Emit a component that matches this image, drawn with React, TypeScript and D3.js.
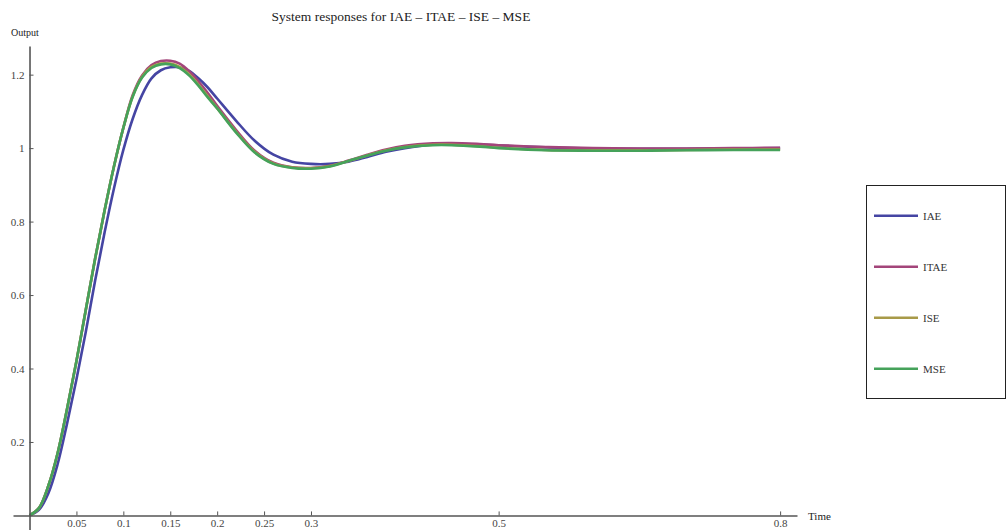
import { useEffect, useRef } from 'react';
import * as d3 from 'd3';

const W = 1006;
const H = 530;

// sample times
const times = [
  0, 0.01, 0.02, 0.03, 0.04, 0.05, 0.06, 0.07, 0.08, 0.09, 0.1, 0.11, 0.12, 0.13, 0.14,
  0.15, 0.16, 0.17, 0.18, 0.19, 0.2, 0.22, 0.24, 0.26, 0.28, 0.3, 0.32, 0.34, 0.36, 0.38,
  0.4, 0.43, 0.45, 0.48, 0.5, 0.55, 0.6, 0.65, 0.7, 0.75, 0.8,
];

const iae = [
  0, 0.015, 0.06, 0.14, 0.25, 0.37, 0.5, 0.64, 0.77, 0.89, 0.995, 1.08, 1.145, 1.19, 1.212,
  1.22, 1.22, 1.21, 1.19, 1.165, 1.135, 1.075, 1.02, 0.982, 0.963, 0.957, 0.957, 0.963, 0.976, 0.99,
  1.0, 1.01, 1.012, 1.01, 1.007, 1.002, 0.999, 0.998, 0.998, 0.999, 1.0,
];

const itae = [
  0, 0.02, 0.08, 0.17, 0.29, 0.42, 0.56, 0.7, 0.83, 0.95, 1.055, 1.145, 1.198, 1.226, 1.237,
  1.238, 1.23, 1.21, 1.182, 1.15, 1.115, 1.05, 0.993, 0.96, 0.948, 0.946, 0.952, 0.966, 0.982, 0.996,
  1.006, 1.013, 1.014, 1.011, 1.008, 1.003, 1.0, 0.999, 0.999, 1.0, 1.001,
];

const ise = [
  0, 0.02, 0.08, 0.17, 0.29, 0.42, 0.56, 0.7, 0.83, 0.95, 1.055, 1.141, 1.194, 1.221, 1.23,
  1.23, 1.221, 1.201, 1.173, 1.141, 1.109, 1.045, 0.99, 0.958, 0.947, 0.945, 0.951, 0.965, 0.98, 0.994,
  1.003, 1.009, 1.009, 1.005, 1.001, 0.995, 0.994, 0.994, 0.995, 0.996, 0.996,
];

const mse = [
  0, 0.02, 0.08, 0.17, 0.29, 0.42, 0.56, 0.7, 0.83, 0.95, 1.055, 1.14, 1.192, 1.218, 1.228,
  1.228, 1.218, 1.198, 1.17, 1.138, 1.108, 1.043, 0.988, 0.957, 0.946, 0.944, 0.95, 0.965, 0.98, 0.993,
  1.002, 1.008, 1.008, 1.004, 1.0, 0.994, 0.993, 0.993, 0.994, 0.995, 0.995,
];

const seriesNames = ['IAE', 'ITAE', 'ISE', 'MSE'];
const seriesValues = [iae, itae, ise, mse];
const seriesColors = ['#4545a3', '#a3457a', '#a89a48', '#45a25a'];

const xTicks = [0.05, 0.1, 0.15, 0.2, 0.25, 0.3, 0.5, 0.8];
const yTicks = [0.2, 0.4, 0.6, 0.8, 1, 1.2];

export default function App() {
  const svgRef = useRef<SVGSVGElement>(null);

  useEffect(() => {
    if (!svgRef.current) return;
    const svg = d3.select(svgRef.current);
    svg.selectAll('*').remove();

    const font = '"Liberation Serif", "Times New Roman", serif';
    const axisColor = '#555';

    const x = d3.scaleLinear().domain([-0.0176, 0.818]).range([13, 797]);
    const y = d3.scaleLinear().domain([-0.05, 1.278]).range([533.8, 46]);

    // title
    svg.append('text')
      .attr('x', 401)
      .attr('y', 21)
      .attr('text-anchor', 'middle')
      .style('font-family', font)
      .style('font-size', '13.5px')
      .attr('fill', '#222')
      .text('System responses for IAE – ITAE – ISE – MSE');

    // curves
    const line = d3.line<number>()
      .x((_, i) => x(times[i]))
      .y((d) => y(d))
      .curve(d3.curveCatmullRom.alpha(0.5));

    seriesValues.forEach((vals, k) => {
      svg.append('path')
        .datum(vals)
        .attr('d', line)
        .attr('fill', 'none')
        .attr('stroke', seriesColors[k])
        .attr('stroke-width', 2.6)
        .attr('stroke-linejoin', 'round');
    });

    // axes
    const xAxis = svg.append('g')
      .attr('transform', `translate(0,${y(0)})`)
      .call(
        d3.axisBottom(x)
          .tickValues(xTicks)
          .tickFormat((d) => String(d))
          .tickSizeInner(-4)
          .tickSizeOuter(0)
          .tickPadding(4)
      );

    const yAxis = svg.append('g')
      .attr('transform', `translate(${x(0)},0)`)
      .call(
        d3.axisLeft(y)
          .tickValues(yTicks)
          .tickFormat((d) => String(d))
          .tickSizeInner(-4)
          .tickSizeOuter(0)
          .tickPadding(5)
      );

    [xAxis, yAxis].forEach((g) => {
      g.select('.domain').attr('stroke', axisColor).attr('stroke-width', 1.6);
      g.selectAll('.tick line').attr('stroke', axisColor).attr('stroke-width', 1);
      g.selectAll('.tick text')
        .attr('fill', '#444')
        .style('font-family', font)
        .style('font-size', '11px');
    });

    svg.append('text')
      .attr('x', 11)
      .attr('y', 36)
      .style('font-family', font)
      .style('font-size', '10px')
      .attr('fill', '#222')
      .text('Output');

    svg.append('text')
      .attr('x', 808)
      .attr('y', 520)
      .style('font-family', font)
      .style('font-size', '11px')
      .attr('fill', '#222')
      .text('Time');

    // legend
    const legend = svg.append('g');
    legend.append('rect')
      .attr('x', 866.5)
      .attr('y', 185.5)
      .attr('width', 139)
      .attr('height', 213)
      .attr('fill', '#fff')
      .attr('stroke', '#222')
      .attr('stroke-width', 1);

    seriesNames.forEach((name, k) => {
      const ly = 215.7 + k * 51;
      legend.append('line')
        .attr('x1', 874)
        .attr('x2', 918)
        .attr('y1', ly)
        .attr('y2', ly)
        .attr('stroke', seriesColors[k])
        .attr('stroke-width', 2.4);
      legend.append('text')
        .attr('x', 923)
        .attr('y', ly)
        .attr('dy', '0.35em')
        .style('font-family', font)
        .style('font-size', '11px')
        .attr('fill', '#333')
        .text(name);
    });
  }, []);

  return (
    <div style={{ position: 'absolute', left: 0, top: 0, width: W, height: H, background: '#fff' }}>
      <svg ref={svgRef} width={W} height={H} style={{ display: 'block' }} />
    </div>
  );
}
